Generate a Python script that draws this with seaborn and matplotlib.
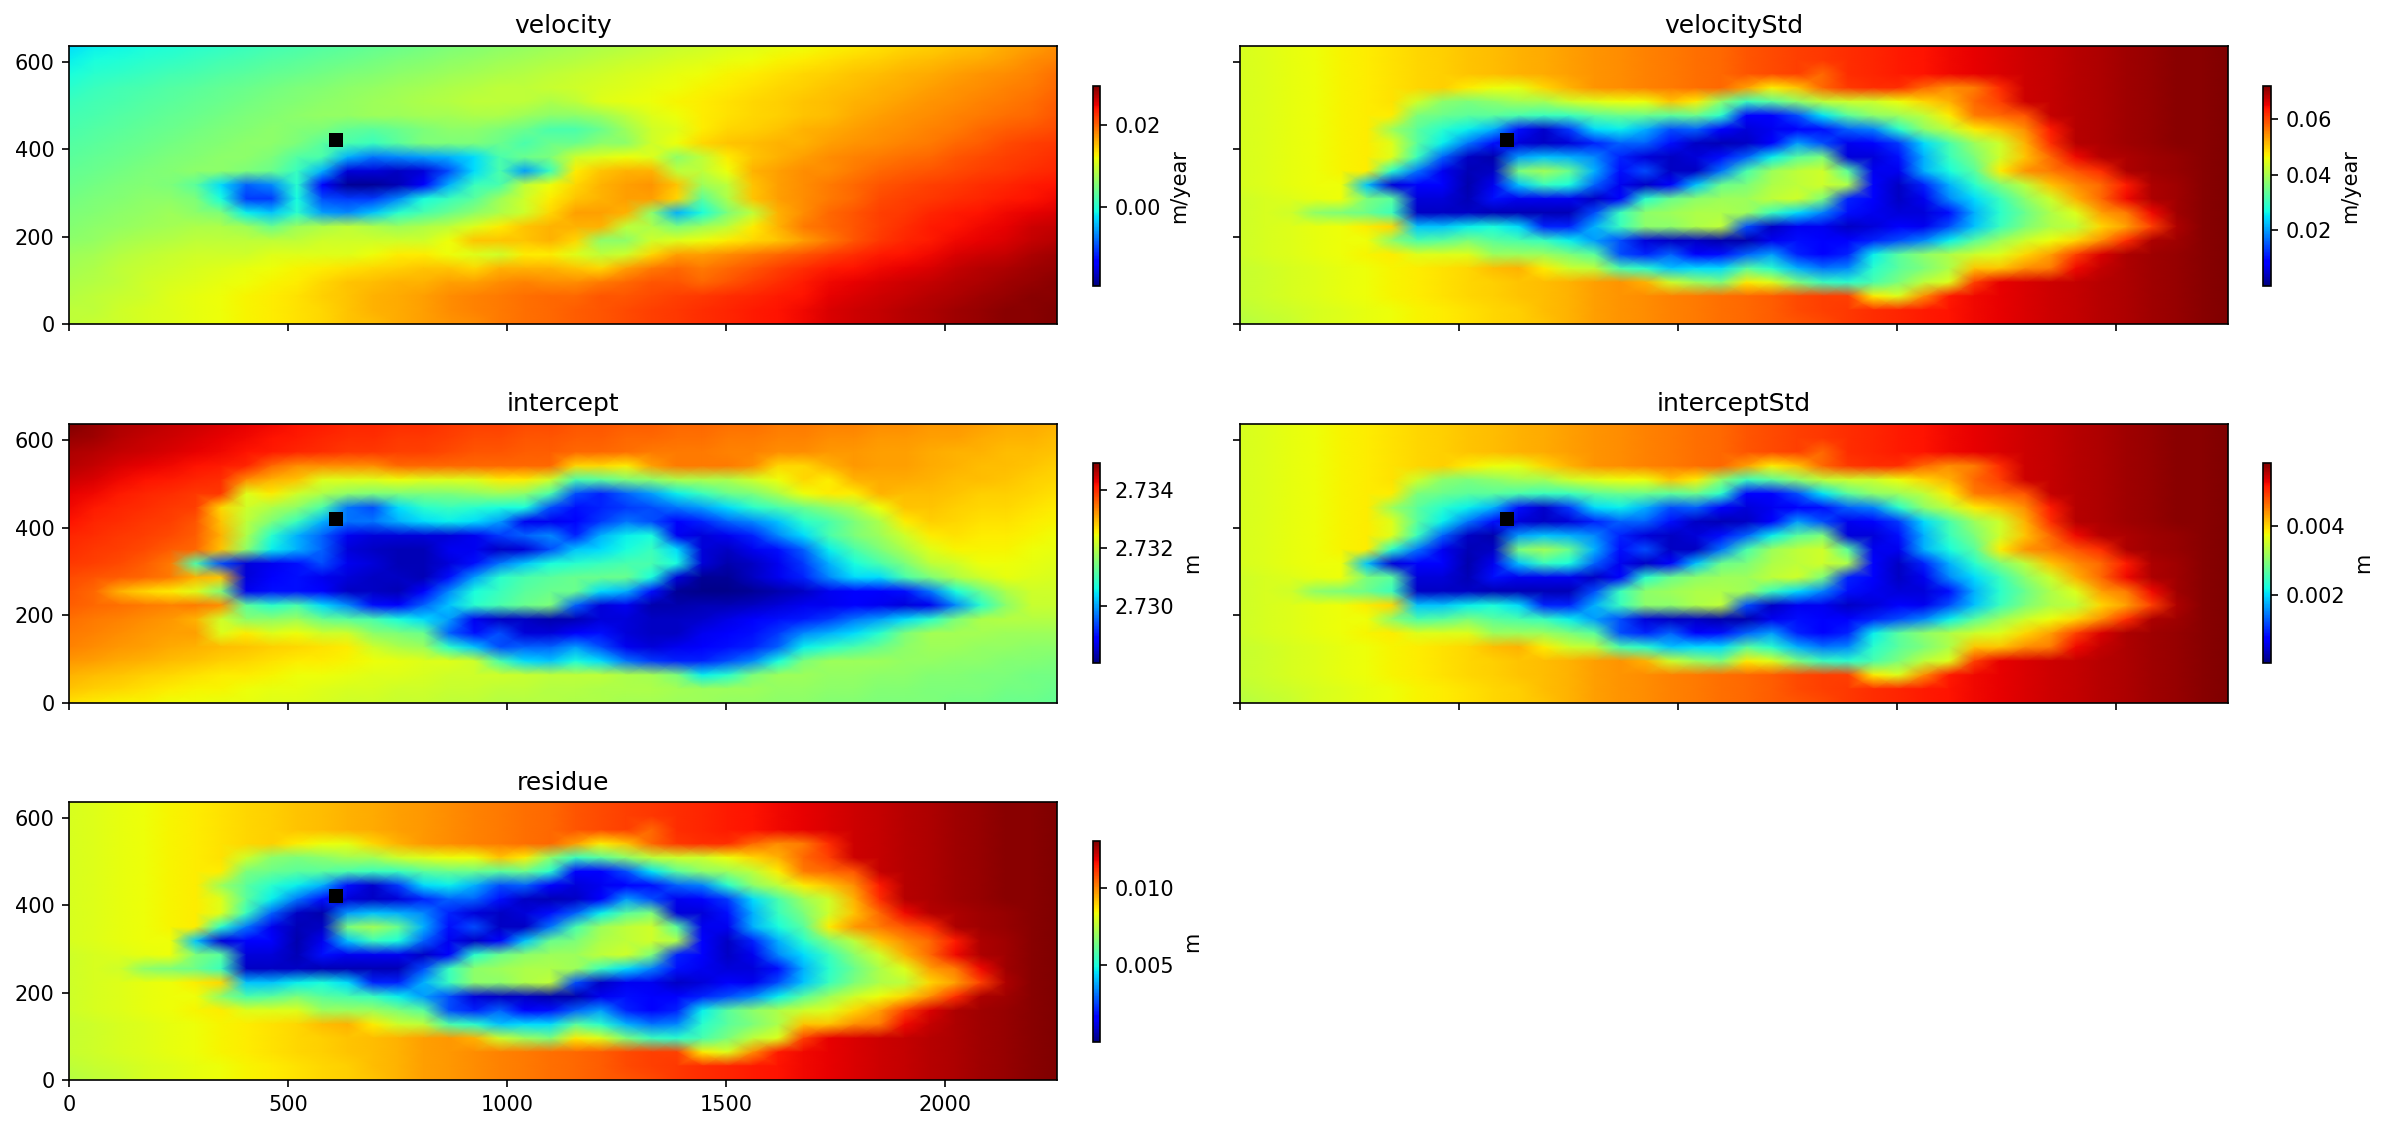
import numpy as np
import pandas as pd
import matplotlib
matplotlib.use("Agg")
import matplotlib.pyplot as plt
import seaborn as sns

# all grids: percent of the colour range, 40 columns, rows from y=636 down to y=0
velocity_pct = [
    [34,36,37,38,39,40,41,42,43,44,45,46,47,48,49,50,51,52,53,54,55,56,57,58,59,60,61,62,63,64,65,66,67,68,69,70,71,73,74,76],
    [36,38,39,40,41,42,43,44,45,46,47,48,49,50,51,52,53,54,55,56,57,58,59,60,61,62,63,64,65,66,67,68,69,70,71,72,73,74,76,77],
    [38,40,41,42,43,44,45,46,47,48,49,50,51,52,53,54,55,56,57,58,59,60,61,62,63,64,65,66,67,68,69,70,71,72,73,74,75,76,77,79],
    [40,42,43,44,45,46,47,48,49,50,51,52,53,54,55,56,57,58,58,59,60,61,62,63,64,65,66,67,68,69,70,71,72,73,74,75,76,77,78,80],
    [42,43,44,45,46,47,48,49,50,51,52,53,54,55,56,57,58,58,58,56,58,62,63,64,65,66,67,68,69,70,71,72,73,74,75,76,77,78,79,81],
    [43,44,45,46,47,48,49,50,51,52,53,53,54,54,55,55,56,56,54,52,52,54,58,62,64,66,67,68,69,70,71,73,74,75,76,77,78,79,80,82],
    [44,45,46,47,48,49,50,51,52,51,50,47,46,48,50,52,52,50,48,44,44,48,54,60,62,66,68,69,70,72,73,74,75,76,77,78,80,81,82,83],
    [45,46,47,48,49,50,51,52,52,50,46,44,42,46,50,50,50,48,44,48,48,52,52,60,64,68,70,71,72,72,74,75,76,77,78,80,81,83,84,85],
    [46,47,48,49,50,51,52,52,50,45,44,30,24,26,28,30,34,44,48,50,60,62,64,62,52,58,66,70,72,74,76,77,78,79,80,82,83,84,85,86],
    [47,48,49,50,51,52,52,50,48,42,30,8,8,6,8,20,34,44,28,42,66,70,72,72,58,58,64,72,74,76,76,78,80,81,82,83,84,85,86,87],
    [48,49,50,51,50,46,34,22,26,40,12,2,2,5,12,30,42,44,58,64,68,72,74,75,70,54,58,70,74,76,78,80,82,83,84,85,86,87,88,89],
    [49,50,51,52,52,50,38,18,18,38,20,18,18,26,38,42,46,54,60,66,70,72,74,74,68,46,56,70,74,76,78,80,83,84,85,86,87,88,89,90],
    [50,51,52,53,54,52,50,36,32,40,28,26,32,40,44,48,52,56,60,68,74,74,72,52,30,38,50,58,72,76,80,82,84,85,87,88,89,90,91,92],
    [51,52,53,54,55,56,56,54,48,54,56,58,56,54,56,58,62,66,70,72,72,72,58,56,50,54,58,66,72,78,80,82,84,86,88,89,90,91,93,94],
    [52,53,55,56,57,58,58,58,58,58,60,60,60,60,60,64,70,70,70,72,68,52,52,60,62,64,66,68,70,74,78,82,85,87,88,90,91,92,94,95],
    [54,55,57,58,59,60,60,60,62,62,62,62,64,66,66,64,62,60,66,66,62,58,60,68,74,74,76,78,80,82,84,86,88,89,90,92,93,94,96,97],
    [55,56,58,59,60,61,62,63,64,65,66,67,68,69,70,70,68,72,72,72,70,68,74,78,80,78,80,82,84,86,88,89,90,91,92,94,95,96,97,98],
    [56,57,58,60,61,62,63,64,65,66,68,70,71,72,72,74,74,76,77,76,76,78,80,82,82,80,82,84,86,88,90,91,92,93,94,95,96,97,98,99],
    [57,58,59,60,62,63,64,65,66,67,69,70,72,73,74,76,77,78,79,80,80,82,82,83,84,85,86,87,88,89,91,92,93,94,95,96,97,98,99,99],
    [58,58,60,61,62,63,64,65,66,67,68,70,72,73,74,76,77,78,79,80,81,82,83,84,85,86,87,88,89,90,92,93,94,95,96,97,98,99,99,100],
    [58,59,60,61,62,63,64,65,66,67,68,70,71,73,74,75,76,78,79,80,81,82,83,84,85,86,87,88,89,90,92,93,94,95,96,97,98,99,99,100],
]

intercept_pct = [
    [100,98,96,95,94,93,92,91,90,89,88,87,87,86,86,85,84,84,83,83,82,82,81,81,80,80,79,79,78,78,77,77,76,76,75,75,74,73,73,72],
    [98,97,95,94,93,92,91,90,89,88,87,86,86,85,85,84,83,83,82,82,81,81,80,80,79,79,78,78,77,77,76,76,75,75,74,74,73,72,72,71],
    [96,95,94,93,92,91,90,89,88,87,86,85,85,84,84,83,82,82,81,81,80,80,79,78,78,78,77,77,76,76,75,75,74,74,73,72,72,71,71,70],
    [95,94,92,91,90,89,88,87,80,76,76,76,76,80,80,80,80,80,80,80,68,68,66,74,78,78,78,76,68,68,72,75,74,74,73,72,71,71,70,69],
    [93,92,90,89,88,87,86,76,72,70,62,62,62,64,62,62,62,66,66,60,44,46,50,52,56,56,56,60,64,68,66,72,73,73,72,71,71,70,69,68],
    [91,90,88,87,86,85,85,62,66,60,56,52,50,50,50,50,52,54,52,44,20,16,22,28,36,42,48,50,56,64,66,66,72,71,71,70,69,69,68,67],
    [90,88,87,86,85,84,68,60,56,52,44,24,20,34,40,42,40,38,38,20,14,16,18,20,24,28,34,40,44,48,52,56,64,70,70,69,68,68,67,66],
    [89,87,86,85,84,82,70,58,50,42,30,24,24,30,34,36,34,28,10,10,12,18,24,20,12,16,22,26,32,40,44,50,56,66,69,68,67,67,66,65],
    [87,86,85,84,83,81,72,56,40,30,22,10,8,8,8,8,10,18,22,26,16,30,36,38,10,8,10,16,26,34,44,50,54,60,66,67,66,66,65,64],
    [86,85,84,83,81,80,70,52,36,30,22,8,6,5,5,10,10,6,8,20,32,34,38,42,34,8,6,10,14,22,36,44,50,56,62,65,65,65,64,63],
    [85,84,83,81,78,44,20,8,10,14,20,10,8,5,5,8,14,24,32,38,40,42,44,44,38,8,4,6,10,18,30,38,44,50,58,60,64,64,63,62],
    [83,82,81,80,78,72,70,8,12,14,10,8,6,6,5,14,28,40,44,46,48,48,48,38,8,2,2,6,10,16,26,34,34,44,50,56,60,63,62,61],
    [82,80,72,68,66,62,50,10,14,14,12,6,6,5,12,26,38,42,46,48,48,34,30,14,2,1,1,2,4,6,10,12,12,14,24,38,48,56,60,60],
    [81,80,79,78,77,78,76,46,40,44,34,26,14,12,22,32,40,44,48,50,22,8,10,4,4,5,5,6,8,10,10,12,10,8,10,26,40,52,59,59],
    [79,78,77,76,75,72,60,52,52,54,48,46,44,38,34,28,10,6,6,4,5,8,8,6,6,7,9,12,14,15,18,24,28,34,40,50,56,57,57,57],
    [78,77,76,75,74,74,62,66,62,64,60,60,52,50,48,22,14,20,8,8,12,14,8,6,6,10,12,14,18,26,30,34,40,50,55,55,55,54,54,54],
    [77,76,75,74,73,72,71,70,69,68,67,66,60,56,54,40,32,20,22,22,28,20,10,8,10,12,14,16,22,36,40,44,48,52,54,54,53,53,52,52],
    [75,74,73,72,71,70,69,68,67,66,66,65,64,63,62,62,60,44,34,32,38,34,24,18,16,16,20,26,38,50,54,54,54,53,53,52,52,51,51,50],
    [72,71,70,69,68,67,66,66,65,64,64,63,62,62,61,60,60,60,59,58,58,58,56,55,50,36,40,50,54,54,53,53,52,52,51,51,50,50,49,49],
    [70,69,68,67,66,65,65,64,63,63,62,61,61,60,60,59,59,58,58,57,57,56,56,56,55,54,54,54,53,53,52,52,51,51,50,50,50,49,49,48],
    [67,66,65,65,64,64,63,63,62,62,61,60,60,59,59,58,58,57,57,57,56,56,55,55,54,54,53,53,52,52,51,51,50,50,50,49,49,48,48,47],
]

# velocityStd, interceptStd and residue show the same pattern in the picture
spread_pct = [
    [61,62,63,64,65,66,67,68,69,70,71,72,73,74,75,76,77,78,79,80,82,83,84,85,86,87,88,89,90,91,92,93,94,95,96,97,98,99,99,100],
    [61,62,63,64,65,66,67,68,69,70,71,72,73,74,75,76,77,78,79,80,82,83,84,85,86,87,88,89,90,91,92,93,94,95,96,97,98,99,99,100],
    [61,62,63,64,65,66,67,68,69,70,71,72,73,74,75,76,77,78,79,80,82,83,84,80,86,87,88,89,90,91,92,93,94,95,96,97,98,99,99,100],
    [61,62,63,64,65,66,67,68,69,66,64,63,68,72,75,76,77,78,79,80,74,66,70,80,85,86,86,80,76,78,86,93,94,95,96,97,98,99,99,100],
    [61,62,63,64,65,66,67,60,52,50,52,55,55,60,62,64,64,70,66,52,42,46,52,58,60,60,64,68,72,80,84,93,94,95,96,97,98,99,99,100],
    [61,62,63,64,65,66,66,50,48,46,46,44,42,42,46,48,48,46,48,40,12,12,20,35,46,52,54,58,66,78,80,82,94,95,96,97,98,99,99,100],
    [61,62,63,64,65,66,54,46,40,36,30,14,7,18,34,36,30,20,22,12,8,10,12,14,22,25,40,52,58,66,70,76,88,95,96,97,98,99,99,100],
    [61,62,63,64,65,66,62,46,36,24,14,8,6,8,16,22,22,14,6,5,6,12,28,20,10,12,18,34,44,54,60,72,86,95,96,97,98,99,99,100],
    [61,62,63,64,65,66,62,42,22,6,4,28,32,30,26,16,8,6,8,14,22,36,46,50,8,8,14,30,42,50,60,70,80,90,95,96,97,98,99,100],
    [61,62,63,64,65,66,40,24,10,5,6,50,55,48,30,14,20,6,6,24,44,54,58,60,46,10,10,30,38,46,66,75,78,82,86,96,97,98,99,100],
    [61,62,63,64,64,32,8,12,12,4,10,32,42,38,22,10,6,12,32,48,50,56,58,60,56,12,6,16,30,40,50,58,70,76,80,88,96,97,99,100],
    [60,61,62,63,64,50,46,8,8,5,14,10,10,10,6,12,40,48,52,54,54,58,60,50,16,12,6,10,26,34,42,52,60,72,80,90,96,97,99,100],
    [60,61,60,52,50,48,42,6,6,6,5,5,5,5,20,42,52,54,56,56,54,42,34,25,14,10,8,8,14,30,40,48,56,62,74,78,90,97,99,100],
    [60,61,62,63,64,66,68,32,32,36,38,34,16,16,30,42,52,52,56,58,20,6,10,10,6,8,12,10,20,32,42,50,56,58,68,74,84,96,99,100],
    [60,61,62,63,64,64,52,44,46,50,46,44,42,36,28,20,8,6,6,4,4,10,14,12,12,16,20,26,36,46,54,60,64,68,76,86,96,97,99,100],
    [60,61,62,63,64,65,66,62,62,62,54,54,54,50,46,20,16,22,12,14,22,28,16,12,16,36,46,52,56,60,62,68,74,84,92,96,97,98,99,100],
    [59,60,61,62,63,64,65,66,67,68,71,72,66,60,58,44,40,32,34,34,46,40,30,24,26,40,46,50,56,70,70,76,78,90,94,96,97,98,99,100],
    [59,60,61,62,63,64,65,66,67,68,69,70,71,72,74,75,72,60,54,50,66,62,50,42,40,44,50,58,62,84,91,92,93,94,95,96,97,98,99,100],
    [59,60,61,62,63,64,65,66,67,68,69,70,71,72,74,75,76,77,78,79,80,81,83,84,84,66,62,76,88,90,91,92,93,94,95,96,97,98,99,100],
    [58,59,60,61,62,63,64,65,66,67,68,69,71,72,74,75,76,77,78,79,80,81,83,84,85,86,87,88,89,90,91,92,93,94,95,96,97,98,99,100],
    [57,58,59,61,62,63,64,65,66,67,68,69,70,72,74,75,76,77,78,79,80,81,82,83,85,86,87,88,89,90,91,92,93,94,95,96,97,98,99,100],
]

titles = ["velocity", "velocityStd", "intercept", "interceptStd", "residue"]
units = ["m/year", "m/year", "m", "m", "m"]
grids = [velocity_pct, spread_pct, intercept_pct, spread_pct, spread_pct]
vmins = [-0.0193, 0.0, 2.72802, 0.00002, 0.0]
vmaxs = [0.0296, 0.072, 2.73494, 0.00584, 0.01302]
cbar_ticks = [
    [0.00, 0.02],
    [0.02, 0.04, 0.06],
    [2.730, 2.732, 2.734],
    [0.002, 0.004],
    [0.005, 0.010],
]
cbar_formats = ["%.2f", "%.2f", "%.3f", "%.3f", "%.3f"]

x_max = 2256
y_max = 636
x_ticks = [0, 500, 1000, 1500, 2000]
y_ticks = [0, 200, 400, 600]
point_x = [610]
point_y = [420]

W, H = 2388, 1130
dpi = 150

# pixel boxes: left, top, right, bottom
ax_boxes = [
    (69, 46, 1057, 324), (1240, 46, 2228, 324),
    (69, 424, 1057, 703), (1240, 424, 2228, 703),
    (69, 802, 1057, 1080),
]
cbar_boxes = [
    (1093, 86, 1100, 286), (2263, 86, 2271, 286),
    (1093, 463, 1100, 663), (2263, 463, 2271, 663),
    (1093, 841, 1100, 1042),
]


def add_box(fig, box):
    left, top, right, bottom = box
    return fig.add_axes([left / W, 1 - bottom / H, (right - left) / W, (bottom - top) / H])


fig = plt.figure(figsize=(W / dpi, H / dpi), dpi=dpi)

for i, title in enumerate(titles):
    ax = add_box(fig, ax_boxes[i])
    cax = add_box(fig, cbar_boxes[i])

    pct = np.array(grids[i], dtype=float)
    values = vmins[i] + pct / 100 * (vmaxs[i] - vmins[i])
    df = pd.DataFrame(values)
    nrows, ncols = df.shape

    # gouraud keeps the field smooth instead of showing blocks
    sns.heatmap(df, ax=ax, cbar_ax=cax, cmap="jet", vmin=vmins[i], vmax=vmaxs[i],
                xticklabels=False, yticklabels=False, shading="gouraud",
                cbar_kws={"ticks": cbar_ticks[i], "format": cbar_formats[i]})

    sx = (ncols - 1) / x_max
    sy = (nrows - 1) / y_max
    ax.set_xlim(0, ncols - 1)
    ax.set_ylim(nrows - 1, 0)

    ax.plot(np.array(point_x) * sx, (y_max - np.array(point_y)) * sy, "s",
            color="black", markersize=6.7, markeredgewidth=0)

    ax.set_xticks(np.array(x_ticks) * sx)
    ax.set_yticks((y_max - np.array(y_ticks)) * sy)
    ax.set_xticklabels([str(t) for t in x_ticks] if i == 4 else [])
    ax.set_yticklabels([str(t) for t in y_ticks] if i % 2 == 0 else [], rotation=0)
    ax.tick_params(axis="x", rotation=0)
    ax.set_title(title, fontsize=12)
    for spine in ax.spines.values():
        spine.set_visible(True)
        spine.set_linewidth(0.8)

    cb = ax.collections[0].colorbar
    cb.set_label(units[i], fontsize=10)
    cb.outline.set_visible(True)
    cb.outline.set_linewidth(0.8)
    cb.ax.tick_params(labelsize=10, length=3.5, width=0.8)

fig.savefig("out.png", dpi=dpi)
